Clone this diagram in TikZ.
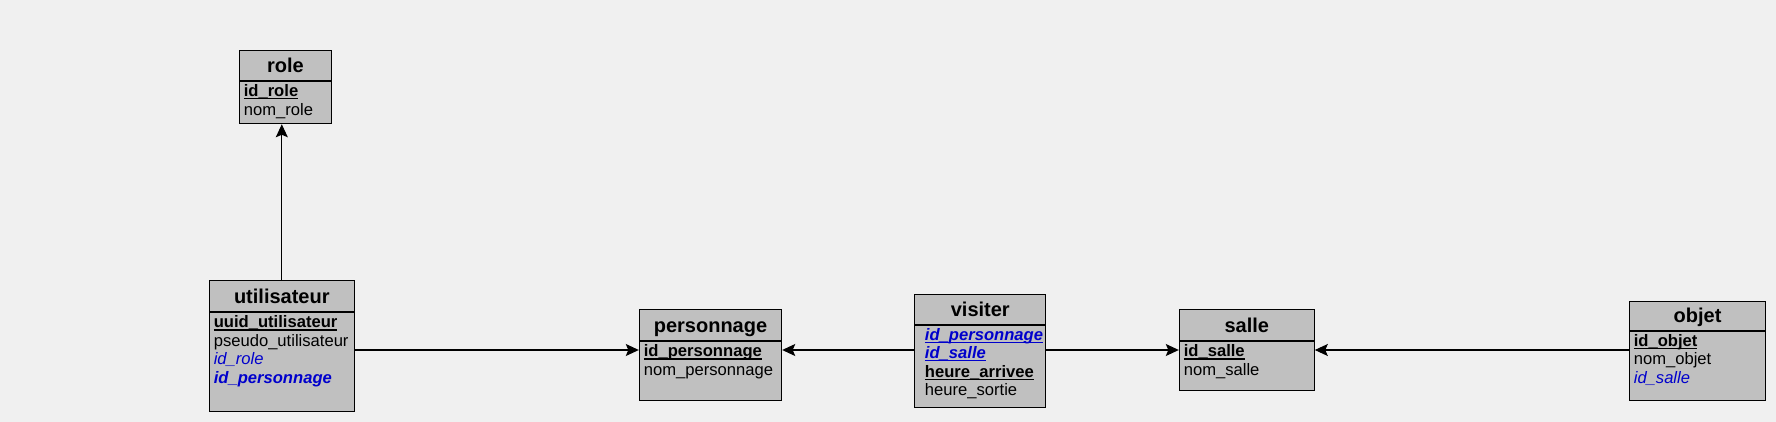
\documentclass[tikz,border=0pt]{standalone}
\usepackage{fontspec}
\setmainfont{Liberation Sans}
\usetikzlibrary{positioning,arrows.meta}
\definecolor{canvas}{HTML}{F0F0F0}
\definecolor{tablegray}{HTML}{C0C0C0}
\definecolor{fkblue}{HTML}{0000CC}
\hyphenpenalty=10000
\newsavebox{\keybox}
\newcommand{\pkey}[1]{\leavevmode\sbox{\keybox}{\bfseries #1}\rlap{\rule[-2.6pt]{\wd\keybox}{1.2pt}}\usebox{\keybox}}
\newcommand{\fkey}[1]{\textcolor{fkblue}{\itshape #1}}
\tikzset{
	>={Stealth[length=13pt,width=12pt,inset=2.5pt]}
}

\begin{document}
\begin{tikzpicture}[
x = 1pt, y = -1pt,
every node/.style = {
	font = \fontsize{16.6}{18.5}\selectfont
},
tablehead/.style = {
	draw,
	fill = tablegray,
	line width = 1pt,
	inner sep = 0pt,
	text height = 14.3pt,
	text depth = 0pt,
	font = \fontsize{20}{24}\selectfont\bfseries
},
tablebody/.style = {
	draw,
	fill = tablegray,
	line width = 1pt,
	align = left,
	inner xsep = 4.5pt,
	inner ysep = 3.3pt,
	text height = 12pt
},
link/.style = {
	->,
	line width = 1.1pt
}
]

\fill[canvas] (0,0) rectangle (1776,422);

% tables
\node (role) [tablehead, minimum width=92.4pt, minimum height=30.3pt] at (285.5,65.2) {role};
\node (role-fields) [tablebody, text width=83.4pt, text depth=23.8pt, below=0pt of role]
	{\pkey{id\_role}\\nom\_role};

\node (utilisateur) [tablehead, minimum width=145pt, minimum height=30.7pt] at (281.8,296.3) {utilisateur};
\node (utilisateur-fields) [tablebody, text width=136pt, text depth=80.4pt, below=0pt of utilisateur]
	{\pkey{uuid\_utilisateur}\\pseudo\_utilisateur\\\fkey{id\_role}\\\fkey{\bfseries id\_personnage}};

\node (personnage) [tablehead, minimum width=142.4pt, minimum height=30.7pt] at (710.5,325.3) {personnage};
\node (personnage-fields) [tablebody, text width=133.4pt, text depth=40.7pt, below=0pt of personnage]
	{\pkey{id\_personnage}\\nom\_personnage};

\node (visiter) [tablehead, minimum width=130.7pt, minimum height=29.7pt] at (980.3,309.2) {visiter};
\node (visiter-fields) [tablebody, inner xsep=10pt, text width=110.7pt, text depth=63.4pt, below=0pt of visiter]
	{\fkey{\pkey{id\_personnage}}\\\fkey{\pkey{id\_salle}}\\\pkey{heure\_arrivee}\\heure\_sortie};

\node (salle) [tablehead, minimum width=135pt, minimum height=30.7pt] at (1246.8,325.3) {salle};
\node (salle-fields) [tablebody, text width=126pt, text depth=30.7pt, below=0pt of salle]
	{\pkey{id\_salle}\\nom\_salle};

\node (objet) [tablehead, minimum width=136.4pt, minimum height=29pt] at (1697.5,315.5) {objet};
\node (objet-fields) [tablebody, text width=127.4pt, text depth=50.4pt, below=0pt of objet]
	{\pkey{id\_objet}\\nom\_objet\\\fkey{id\_salle}};

% links
\coordinate (row) at (0,350);
\draw[link] (utilisateur.north) -- (utilisateur.north |- role-fields.south);
\draw[link] (utilisateur-fields.east |- row) -- (personnage-fields.west |- row);
\draw[link] (visiter-fields.west |- row) -- (personnage-fields.east |- row);
\draw[link] (visiter-fields.east |- row) -- (salle-fields.west |- row);
\draw[link] (objet-fields.west |- row) -- (salle-fields.east |- row);

\end{tikzpicture}
\end{document}
